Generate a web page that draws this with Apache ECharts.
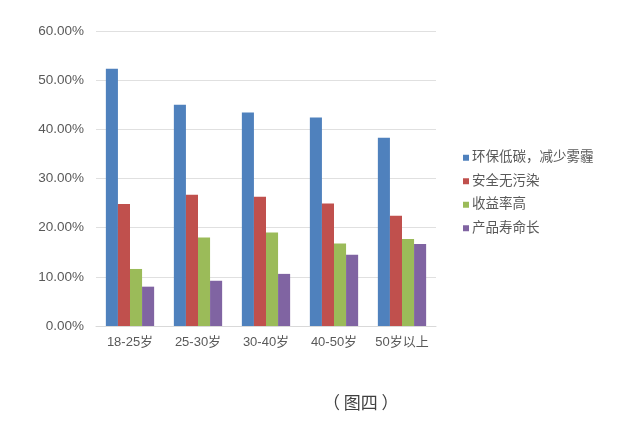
<!DOCTYPE html>
<html lang="zh">

<head>
    <meta charset="UTF-8">
    <title>图四</title>
    <script src="https://cdn.jsdelivr.net/npm/echarts@6.0.0/dist/echarts.min.js"></script>
    <style>
        html, body { margin: 0; padding: 0; background: #fff; }
    </style>
</head>

<body>
    <div id="myChart" style="width: 619px; height: 441px;"></div>
    <script>
        // 年龄段
        const ageGroups = ['18-25岁', '25-30岁', '30-40岁', '40-50岁', '50岁以上'];
        const seriesNames = ['环保低碳，减少雾霾', '安全无污染', '收益率高', '产品寿命长'];
        // 各选项占比（%）
        const lowCarbon = [52.3, 45.0, 43.4, 42.4, 38.3];
        const safe = [24.8, 26.7, 26.3, 24.9, 22.4];
        const highReturn = [11.6, 18.0, 19.0, 16.8, 17.7];
        const longLife = [8.0, 9.2, 10.6, 14.5, 16.7];
        const colors = ['#4F81BD', '#C0504D', '#9BBB59', '#8064A2'];

        const myChart = echarts.init(document.getElementById('myChart'));
        const font = 'Arial, "Liberation Sans", "Noto Sans CJK SC", sans-serif';

        const option = {
            color: colors,
            textStyle: { fontFamily: font },
            grid: { left: 96, right: 183, top: 31, bottom: 115, containLabel: false },
            legend: {
                orient: 'vertical',
                left: 458,
                top: 146,
                itemWidth: 6,
                itemHeight: 6,
                itemGap: 10,
                icon: 'rect',
                textStyle: { fontSize: 13.5, color: '#595959', fontFamily: font, padding: [0, 0, 0, -2] },
                data: seriesNames
            },
            graphic: [{
                type: 'text',
                left: 323,
                top: 394,
                style: { text: '（ 图四 ）', fill: '#404040', font: '17px "Noto Sans CJK SC", sans-serif' }
            }],
            xAxis: {
                type: 'category',
                data: ageGroups,
                axisTick: { show: false },
                axisLine: { lineStyle: { color: '#d9d9d9' } },
                axisLabel: { color: '#595959', fontSize: 13, margin: 10, interval: 0 }
            },
            yAxis: {
                type: 'value',
                min: 0,
                max: 60,
                interval: 10,
                axisLabel: {
                    color: '#595959',
                    fontSize: 13.5,
                    margin: 12,
                    formatter: v => v.toFixed(2) + '%'
                },
                splitLine: { lineStyle: { color: '#e0e0e0' } },
                axisLine: { show: false },
                axisTick: { show: false }
            },
            series: [lowCarbon, safe, highReturn, longLife].map((d, i) => ({
                name: seriesNames[i],
                type: 'bar',
                data: d,
                barGap: '0%',
                barCategoryGap: '29%'
            }))
        };
        myChart.setOption(option);
    </script>
</body>

</html>
